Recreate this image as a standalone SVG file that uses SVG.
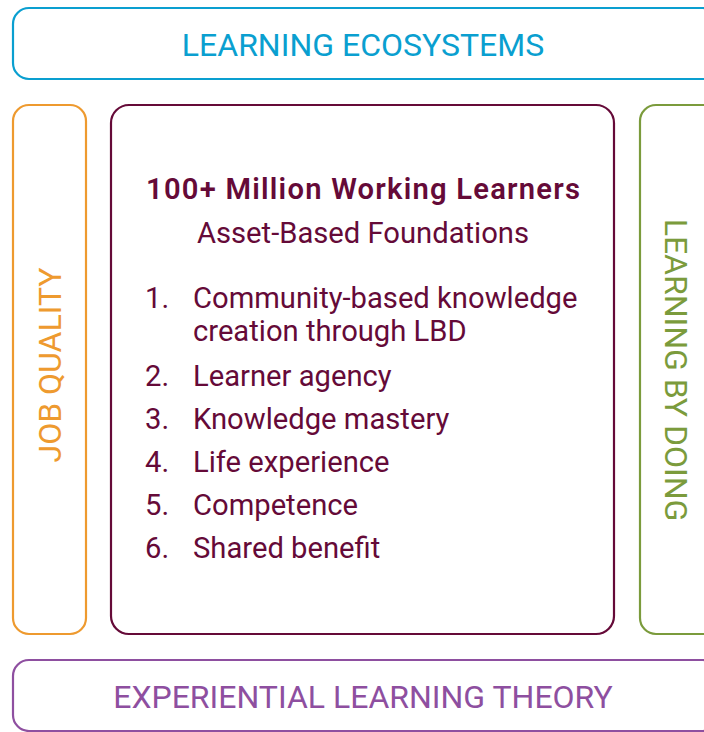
<svg xmlns="http://www.w3.org/2000/svg" width="704" height="732" viewBox="0 0 704 732">
<style>
.box{fill:#fff;stroke-width:2.2}
.lbl{font-family:Roboto,"Liberation Sans",sans-serif;font-size:32px;text-anchor:middle}
.main{font-family:Roboto,"Liberation Sans",sans-serif;font-size:29.2px;fill:#650a38}
</style>
<rect width="704" height="732" fill="#fff"/>
<g id="ecosystems">
<rect class="box" x="13" y="8" width="706" height="71" rx="16" stroke="#0a9fd0"/>
<text class="lbl" x="363" y="56" fill="#0a9fd0">LEARNING ECOSYSTEMS</text>
</g>
<g id="job-quality">
<rect class="box" x="13" y="105" width="73" height="529" rx="16" stroke="#ee9a2f"/>
<text class="lbl" transform="translate(61,365) rotate(-90)" fill="#ee9a2f">JOB QUALITY</text>
</g>
<g id="learners">
<rect class="box" x="111" y="105" width="503" height="529" rx="18" stroke="#650a38"/>
<text class="main" x="146" y="199" font-weight="600" font-size="34.5" textLength="434" lengthAdjust="spacing">100+ Million Working Learners</text>
<text class="main" x="363" y="243" text-anchor="middle">Asset-Based Foundations</text>
<text class="main" x="145" y="308">1.</text>
<text class="main" x="193" y="308">Community-based knowledge</text>
<text class="main" x="193" y="341">creation through LBD</text>
<text class="main" x="145" y="386">2.</text>
<text class="main" x="193" y="386">Learner agency</text>
<text class="main" x="145" y="429">3.</text>
<text class="main" x="193" y="429">Knowledge mastery</text>
<text class="main" x="145" y="472">4.</text>
<text class="main" x="193" y="472">Life experience</text>
<text class="main" x="145" y="515">5.</text>
<text class="main" x="193" y="515">Competence</text>
<text class="main" x="145" y="558">6.</text>
<text class="main" x="193" y="558">Shared benefit</text>
</g>
<g id="learning-by-doing">
<rect class="box" x="640" y="105" width="80" height="529" rx="16" stroke="#7b9b3c"/>
<text class="lbl" transform="translate(665,370) rotate(90)" fill="#7b9b3c">LEARNING BY DOING</text>
</g>
<g id="experiential">
<rect class="box" x="13" y="660" width="706" height="71" rx="16" stroke="#8e4fa0"/>
<text class="lbl" x="363" y="708" fill="#8e4fa0">EXPERIENTIAL LEARNING THEORY</text>
</g>
<g id="connectors"/>
</svg>
